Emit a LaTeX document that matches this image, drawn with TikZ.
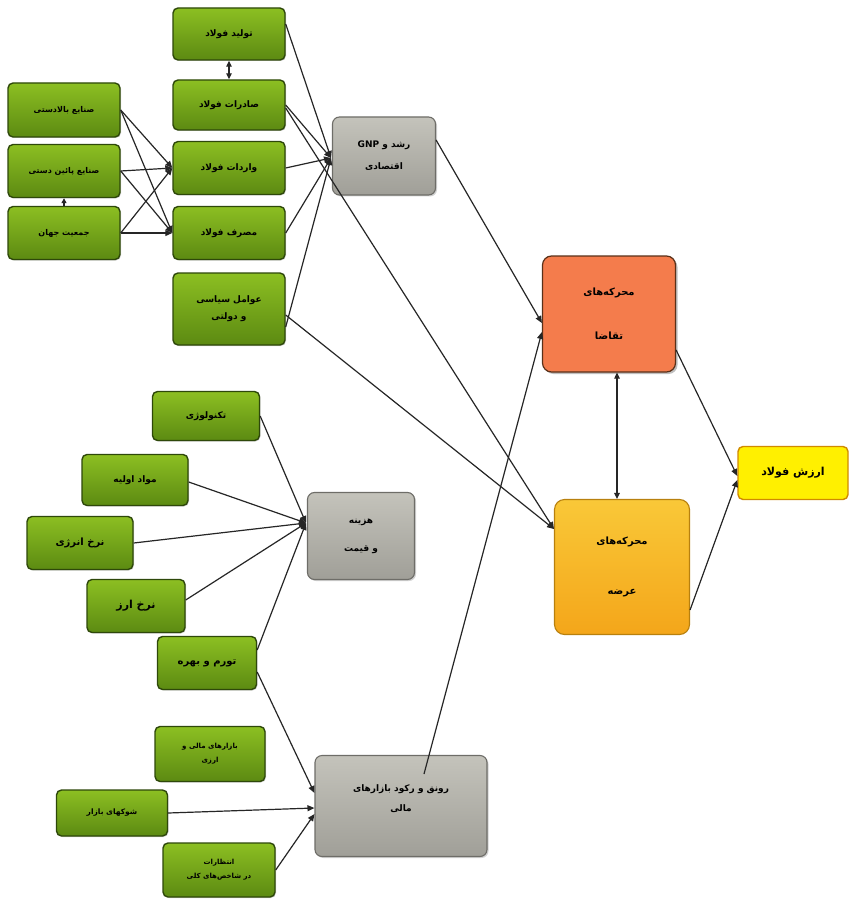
\documentclass[tikz,border=0pt]{standalone}
\usepackage{fontspec}
\usetikzlibrary{arrows.meta,shadows}
\TeXXeTstate=1
\newfontfamily\arabicfont[Script=Arabic]{DejaVu Sans}
\newcommand{\pr}[1]{\beginR #1\endR}
\definecolor{gtop}{HTML}{8CBF22}
\definecolor{gmid}{HTML}{96C82C}
\definecolor{gbot}{HTML}{5C8A12}
\definecolor{gedge}{HTML}{2E480A}
\definecolor{graytop}{HTML}{C4C3BB}
\definecolor{graybot}{HTML}{A09F98}
\definecolor{grayedge}{HTML}{6E6D68}
\definecolor{orfill}{HTML}{F47C4C}
\definecolor{oredge}{HTML}{5A3018}
\definecolor{amtop}{HTML}{F9C838}
\definecolor{ambot}{HTML}{F4A61A}
\definecolor{amedge}{HTML}{B8800E}
\definecolor{yfill}{HTML}{FFF000}
\definecolor{yedge}{HTML}{D08A00}
\begin{document}
\begin{tikzpicture}[x=1pt,y=-1pt,
  every node/.style={font=\arabicfont\bfseries\fontsize{9}{12}\selectfont, align=center, inner sep=2pt},
  gbox/.style={rounded corners=5pt, draw=gedge, line width=1.4pt, top color=gtop, middle color=gmid, bottom color=gbot, drop shadow={shadow xshift=1pt, shadow yshift=-1pt, opacity=0.35}},
  graybox/.style={rounded corners=7pt, draw=grayedge, line width=1.1pt, top color=graytop, bottom color=graybot, drop shadow={shadow xshift=1.5pt, shadow yshift=-1.5pt, opacity=0.35}},
  conn/.style={line width=1.2pt, draw=black!85},
  arr/.style={conn, -{Triangle[length=7pt,width=6pt]}},
  darr/.style={conn, {Triangle[length=6pt,width=5.5pt]}-{Triangle[length=6pt,width=5.5pt]}}
]
\useasboundingbox (0,0) rectangle (851,901);
\fill[white] (0,0) rectangle (851,901);

% top group
\node[gbox, minimum width=112pt, minimum height=52pt] (prod) at (229,34) {\pr{تولید فولاد}};
\node[gbox, minimum width=112pt, minimum height=50pt] (exp) at (229,105) {\pr{صادرات فولاد}};
\node[gbox, minimum width=112pt, minimum height=53pt] (imp) at (229,168) {\pr{واردات فولاد}};
\node[gbox, minimum width=112pt, minimum height=53pt] (cons) at (229,233) {\pr{مصرف فولاد}};
\node[gbox, minimum width=112pt, minimum height=72pt, font=\arabicfont\bfseries\fontsize{9}{17}\selectfont] (pol) at (229,309) {\pr{عوامل سیاسی}\\\pr{و دولتی}};
\node[gbox, minimum width=112pt, minimum height=54pt, font=\arabicfont\bfseries\fontsize{8}{11}\selectfont] (up) at (64,110) {\pr{صنایع بالادستی}};
\node[gbox, minimum width=112pt, minimum height=53pt, font=\arabicfont\bfseries\fontsize{8}{11}\selectfont] (down) at (64,171) {\pr{صنایع پائین دستی}};
\node[gbox, minimum width=112pt, minimum height=53pt, font=\arabicfont\bfseries\fontsize{8}{11}\selectfont] (pop) at (64,233) {\pr{جمعیت جهان}};
\node[graybox, minimum width=103pt, minimum height=78pt, font=\arabicfont\bfseries\fontsize{9}{22}\selectfont] (gnp) at (384,156) {\pr{رشد و \beginL GNP\endL}\\\pr{اقتصادی}};

% right group
\node[rounded corners=9pt, draw=oredge, line width=1.2pt, fill=orfill, minimum width=133pt, minimum height=116pt,
  drop shadow={shadow xshift=2pt, shadow yshift=-2pt, opacity=0.5},
  font=\arabicfont\bfseries\fontsize{10}{44}\selectfont] (dem) at (609,314) {\pr{محرکه‌های}\\\pr{تقاضا}};
\node[rounded corners=10pt, draw=amedge, line width=1.1pt, top color=amtop, bottom color=ambot, minimum width=135pt, minimum height=135pt,
  font=\arabicfont\bfseries\fontsize{10}{50}\selectfont] (sup) at (622,567) {\pr{محرکه‌های}\\\pr{عرضه}};
\node[rounded corners=5pt, draw=yedge, line width=1.4pt, fill=yfill, minimum width=110pt, minimum height=53pt,
  font=\arabicfont\bfseries\fontsize{11}{13}\selectfont] (val) at (793,473) {\pr{ارزش فولاد}};

% cost group
\node[gbox, minimum width=107pt, minimum height=49pt] (tech) at (206,416) {\pr{تکنولوژی}};
\node[gbox, minimum width=106pt, minimum height=51pt] (raw) at (135,480) {\pr{مواد اولیه}};
\node[gbox, minimum width=106pt, minimum height=53pt, font=\arabicfont\bfseries\fontsize{10}{12}\selectfont] (ener) at (80,543) {\pr{نرخ انرژی}};
\node[gbox, minimum width=98pt, minimum height=53pt, font=\arabicfont\bfseries\fontsize{11}{13}\selectfont] (fx) at (136,606) {\pr{نرخ ارز}};
\node[gbox, minimum width=99pt, minimum height=53pt, font=\arabicfont\bfseries\fontsize{10}{12}\selectfont] (infl) at (207,663) {\pr{تورم و بهره}};
\node[graybox, minimum width=107pt, minimum height=87pt, font=\arabicfont\bfseries\fontsize{9}{28}\selectfont] (cost) at (361,536) {\pr{هزینه}\\\pr{و قیمت}};

% financial group
\node[gbox, minimum width=110pt, minimum height=55pt, font=\arabicfont\bfseries\fontsize{7}{14}\selectfont] (fin) at (210,754) {\pr{بازارهای مالی و}\\\pr{ارزی}};
\node[gbox, minimum width=111pt, minimum height=46pt, font=\arabicfont\bfseries\fontsize{7.5}{11}\selectfont] (shock) at (112,813) {\pr{شوکهای بازار}};
\node[gbox, minimum width=112pt, minimum height=54pt, font=\arabicfont\bfseries\fontsize{7}{14}\selectfont] (expt) at (219,870) {\pr{انتظارات}\\\pr{در شاخص‌های کلی}};
\node[graybox, minimum width=172pt, minimum height=101pt, font=\arabicfont\bfseries\fontsize{9}{20}\selectfont] (boom) at (401,806) {\pr{رونق و رکود بازارهای}\\\pr{مالی}\\[-4pt]};

% coordinates for connector ends
\coordinate (gin) at (331,158);
\coordinate (cin) at (306,523);
\coordinate (bs) at (424,774);

% left inputs to imports / consumption
\foreach \s in {up,down,pop}{
  \draw[arr] (\s.east) -- (imp.west);
  \draw[arr] (\s.east) -- (cons.west);
}
\draw[conn,-{Triangle[length=5pt,width=5pt]}] (pop.north) -- (down.south);
\draw[darr] (prod.south) -- (exp.north);

% into GNP
\draw[arr] ([yshift=10pt]prod.east) -- (gin);
\draw[arr] (exp.east) -- (gin);
\draw[arr] (imp.east) -- (gin);
\draw[arr] (cons.east) -- (gin);
\draw[arr] ([yshift=-18pt]pol.east) -- (gin);

% long lines to supply
\draw[arr] ([yshift=-3pt]exp.east) -- ([yshift=38pt]sup.west);
\draw[arr] ([yshift=-6pt]pol.east) -- ([yshift=38pt]sup.west);

% to demand
\draw[arr] ([yshift=16pt]gnp.east) -- ([yshift=-9pt]dem.west);
\draw[arr] (bs) -- ([yshift=-18pt]dem.west);

% demand / supply / value
\draw[darr] ([xshift=8pt]dem.south) -- ([xshift=-5pt]sup.north);
\draw[arr] ([yshift=-36pt]dem.east) -- ([yshift=-3pt]val.west);
\draw[arr] ([yshift=-43pt]sup.east) -- ([yshift=-7pt]val.west);

% cost inputs
\draw[arr] (tech.east) -- (cin);
\draw[arr] ([yshift=-2pt]raw.east) -- (cin);
\draw[arr] (ener.east) -- (cin);
\draw[arr] ([yshift=6pt]fx.east) -- (cin);
\draw[arr] ([yshift=13pt]infl.east) -- (cin);

% financial inputs
\draw[arr] ([yshift=-9pt]infl.east) -- ([yshift=13pt]boom.west);
\draw[arr] (shock.east) -- ([yshift=-2pt]boom.west);
\draw[arr] (expt.east) -- ([yshift=-8pt]boom.west);
\end{tikzpicture}
\end{document}
